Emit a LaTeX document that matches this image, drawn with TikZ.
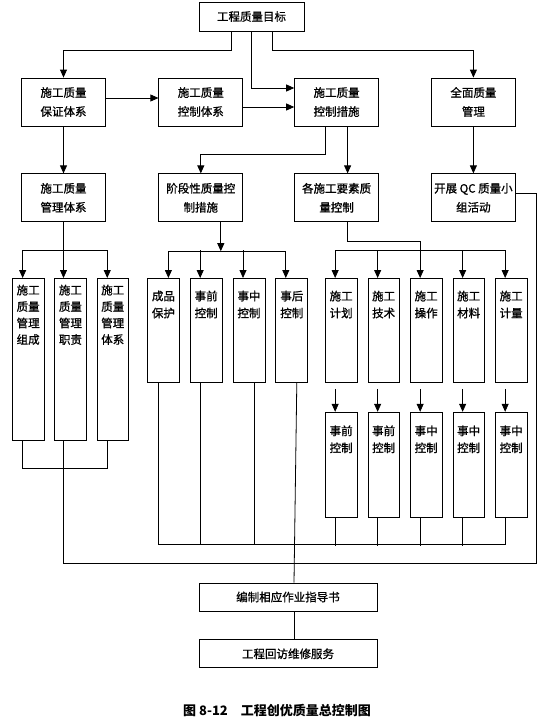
\documentclass[tikz,border=0pt]{standalone}
\usepackage{fontspec}
\setmainfont{Noto Sans CJK SC}
\newfontfamily\boxfont{Noto Sans CJK SC}[FakeBold=1]
\usetikzlibrary{arrows.meta,positioning}

\begin{document}
\begin{tikzpicture}[
    x=1pt, y=-1pt, line width=0.8pt,
    box/.style={rectangle, draw, minimum width=84pt, minimum height=48pt,
                inner sep=0pt, align=center, font=\boxfont\fontsize{11.5}{19}\selectfont},
    wide/.style={rectangle, draw, minimum width=178pt, minimum height=28pt,
                 inner sep=0pt, font=\boxfont\fontsize{11.5}{14}\selectfont},
    tall/.style={rectangle, draw, inner sep=0pt, text width=31.5pt, align=center,
                 text height=22pt, text depth=82pt, font=\boxfont\fontsize{11.5}{17}\selectfont},
    arr/.style={-{Triangle[length=8pt,width=7pt]}}
]
\useasboundingbox (0,0) rectangle (553,725);

% goal and first row
\node[box, minimum width=105pt, minimum height=29pt] (goal) at (251.5,16.5) {工程质量目标};
\node[box] (bz) at (63.5,102) {施工质量\\保证体系};
\node[box, right=52.5pt of bz] (kt) {施工质量\\控制体系};
\node[box, right=51pt of kt] (kc) {施工质量\\控制措施};
\node[box, right=52pt of kc] (qm) {全面质量\\管理};

% second row
\node[box, below=47pt of bz] (gl) {施工质量\\管理体系};
\node[box, below=47pt of kt] (jd) {阶段性质量控\\制措施};
\node[box, below=47pt of kc] (gs) {各施工要素质\\量控制};
\node[box, below=47pt of qm] (qc) {开展 QC 质量小\\组活动};

% left group
\node[tall, text height=16pt, text depth=146pt, font=\boxfont\fontsize{11.5}{16.5}\selectfont,
      anchor=north west] (l1) at (12,278) {施工\\质量\\管理\\组成};
\node[tall, text height=16pt, text depth=146pt, font=\boxfont\fontsize{11.5}{16.5}\selectfont,
      right=10pt of l1] (l2) {施工\\质量\\管理\\职责};
\node[tall, text height=16pt, text depth=146pt, font=\boxfont\fontsize{11.5}{16.5}\selectfont,
      right=10pt of l2] (l3) {施工\\质量\\管理\\体系};

% middle group
\node[tall, text width=32pt, anchor=north west] (m1) at (147,278) {成品\\保护};
\node[tall, text width=32pt, right=10pt of m1] (m2) {事前\\控制};
\node[tall, text width=32pt, right=10pt of m2] (m3) {事中\\控制};
\node[tall, text width=32pt, right=10pt of m3] (m4) {事后\\控制};

% right group
\node[tall, anchor=north west] (s1) at (325,278) {施工\\计划};
\node[tall, right=10.2pt of s1] (s2) {施工\\技术};
\node[tall, right=10.2pt of s2] (s3) {施工\\操作};
\node[tall, right=10.2pt of s3] (s4) {施工\\材料};
\node[tall, right=10.2pt of s4] (s5) {施工\\计量};
\node[tall, text height=23pt, below=29pt of s1] (s1b) {事前\\控制};
\node[tall, text height=23pt, below=29pt of s2] (s2b) {事前\\控制};
\node[tall, text height=23pt, below=29pt of s3] (s3b) {事中\\控制};
\node[tall, text height=23pt, below=29pt of s4] (s4b) {事中\\控制};
\node[tall, text height=23pt, below=29pt of s5] (s5b) {事中\\控制};

% bottom
\node[wide] (zd) at (288,597) {编制相应作业指导书};
\node[wide, below=28pt of zd] (hf) {工程回访维修服务};
\node[font=\fontsize{13}{15}\selectfont\bfseries] (cap) at (277,710) {图 8-12\quad 工程创优质量总控制图};

% top connectors
\draw[arr] ([xshift=-20.5pt]goal.south) -- ++(0,19) -| (bz.north);
\draw[arr] (goal.south) |- ([yshift=14pt]kc.west);
\draw[arr] ([xshift=20.5pt]goal.south) -- ++(0,19) -| (qm.north);
\draw[arr] ([yshift=4pt]bz.east) -- ([yshift=4pt]kt.west);
\draw[arr] ([yshift=-5pt]kt.east) -- ([yshift=-5pt]kc.west);
\draw[arr] (bz) -- (gl);
\draw[arr] ([xshift=-11pt]kc.south) -- ++(0,28) -| (jd.north);
\draw[arr] ([xshift=11pt]kc.south) -- ([xshift=11pt]gs.north);
\draw[arr] (qm) -- (qc);

% left group
\draw[arr] (gl.south) -- ++(0,28) -| ([xshift=-5.5pt]l1.north);
\draw[arr] (gl.south) -- ++(0,28) -| ([xshift=-5.5pt]l3.north);
\draw[arr] (gl.south) -- (gl.south |- l2.north);
\draw ([xshift=-5.5pt]l1.south) -- ++(0,28) -| ([xshift=-5pt]l3.south);
\draw ([yshift=4pt]qc.east) -| ++(21,370) -| (gl.south |- l2.south);

% middle group
\draw[arr] ([xshift=20pt]jd.south) -- ++(0,29) coordinate (jdsplit);
\draw[arr] (jdsplit) -| ([xshift=5pt]m1.north);
\draw[arr] (jdsplit) -| ([xshift=-6pt]m4.north);
\draw[arr] ([xshift=-6pt,yshift=28pt]m2.north) -- ([xshift=-6pt]m2.north);
\draw[arr] ([xshift=-6pt,yshift=28pt]m3.north) -- ([xshift=-6pt]m3.north);
\draw ([xshift=-5pt]m1.south) -- ++(0,162) -| ([xshift=-5.5pt]s5b.south);
\draw ([xshift=-6pt]m2.south) -- ++(0,162);
\draw ([xshift=5pt]m3.south) -- ++(0,162);
\draw ([xshift=5pt]m4.south) -- ([xshift=6pt]zd.north);

% right group
\draw[arr] ([xshift=11pt]gs.south) -- ++(0,19) -| ([xshift=-6pt]s3.north);
\draw ([xshift=-6pt,yshift=28pt]s1.north) -- ([xshift=-6pt,yshift=28pt]s5.north);
\draw[arr] ([xshift=-6pt,yshift=28pt]s1.north) -- ([xshift=-6pt]s1.north);
\draw[arr] ([xshift=-6pt,yshift=28pt]s2.north) -- ([xshift=-6pt]s2.north);
\draw[arr] ([xshift=-6pt,yshift=28pt]s4.north) -- ([xshift=-6pt]s4.north);
\draw[arr] ([xshift=-6pt,yshift=28pt]s5.north) -- ([xshift=-6pt]s5.north);
\draw[arr] ([xshift=-6pt,yshift=-6pt]s1.south) -- ([xshift=-6pt]s1b.north);
\draw[arr] ([xshift=-6pt,yshift=-6pt]s2.south) -- ([xshift=-6pt]s2b.north);
\draw[arr] ([xshift=-6pt,yshift=-6pt]s3.south) -- ([xshift=-6pt]s3b.north);
\draw[arr] ([xshift=-6pt,yshift=-6pt]s4.south) -- ([xshift=-6pt]s4b.north);
\draw[arr] ([xshift=-6pt,yshift=-6pt]s5.south) -- ([xshift=-6pt]s5b.north);
\draw ([xshift=-6pt]s1b.south) -- ++(0,28);
\draw ([xshift=-6pt]s2b.south) -- ++(0,28);
\draw ([xshift=-6pt]s3b.south) -- ++(0,28);
\draw ([xshift=-6pt]s4b.south) -- ++(0,28);

% bottom
\draw ([xshift=6pt]zd.south) -- ([xshift=6pt]hf.north);
\end{tikzpicture}
\end{document}
